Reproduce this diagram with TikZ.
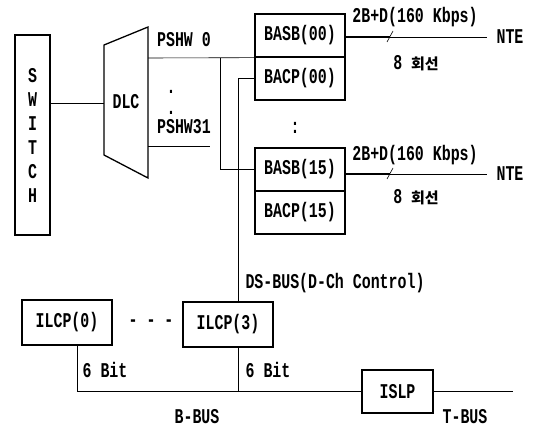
\documentclass[tikz,border=0pt]{standalone}
\usepackage{fontspec}
\usepackage{tikz}
\usetikzlibrary{positioning, calc}
\newfontfamily\dfont{Liberation Mono}[FakeStretch=0.71]
\newfontfamily\kfont{Noto Sans CJK KR}

\begin{document}
\begin{tikzpicture}[
    x=1pt, y=-1pt,
    every node/.style={font=\dfont\bfseries\fontsize{21}{23}\selectfont, inner sep=0pt},
    blk/.style={rectangle, draw, line width=1.3pt, minimum width=90pt, minimum height=43pt, align=center},
    cell/.style={rectangle, draw, line width=1.3pt, minimum width=90pt, minimum height=43pt},
    lnk/.style={line width=0.6pt},
    trunk/.style={line width=1.4pt}
]
    \useasboundingbox (0,0) rectangle (533,428);

    % switch and DLC
    \node (switch) [blk, minimum width=35pt, minimum height=200pt] at (32.5,135)
        {S\\[1pt]W\\[1pt]I\\[1pt]T\\[1pt]C\\[1pt]H};
    \draw[line width=1.3pt] (104,45) -- (148,27) -- (148,178) -- (104,155) -- cycle;
    \node (dlc) at (126,102) {DLC};
    \coordinate (dlcin) at (104,103);
    \coordinate (dlc0) at (148,58);
    \coordinate (dlc31) at (148,146);
    \coordinate (stub31) at (210,146);
    \coordinate (br) at (220,58);

    \node (pshw0) at (184,40) {PSHW 0};
    \node (dots31) [align=center, font=\dfont\bfseries\fontsize{21}{21}\selectfont] at (171,102) {.\\.};
    \node (pshw31) at (184,127) {PSHW31};

    % BA boards
    \node (basb0) [cell] at (300,35.5) {BASB(00)};
    \node (bacp0) [cell] at (300,78.5) {BACP(00)};
    \node (vdots) at (295,128) {:};
    \node (basb15) [cell] at (300,169.5) {BASB(15)};
    \node (bacp15) [cell] at (300,212.5) {BACP(15)};

    % subscriber links
    \coordinate (cut0) at (390,37);
    \coordinate (end0) at (487,37);
    \node (nte0) at (510,37) {NTE};
    \node (rate0) at (415,17) {2B+D(160 Kbps)};
    \node (ch0) at (416,63) {8 {\kfont\bfseries\fontsize{15}{17}\selectfont 회선}};
    \coordinate (cut15) at (390,174);
    \coordinate (end15) at (487,174);
    \node (nte15) at (510,174) {NTE};
    \node (rate15) at (415,155) {2B+D(160 Kbps)};
    \node (ch15) at (416,197) {8 {\kfont\bfseries\fontsize{15}{17}\selectfont 회선}};

    % control processors
    \node (ilcp0) [blk, minimum height=45pt] at (67,322.5) {ILCP(0)};
    \node (dots) at (151,323) {- - -};
    \node (ilcp3) [blk, minimum height=45pt] at (228,324.5) {ILCP(3)};
    \node (dsbus) at (335,283) {DS-BUS(D-Ch Control)};
    \node (bit0) at (105,370) {6 Bit};
    \node (bit3) at (268,370) {6 Bit};
    \node (islp) [blk, minimum width=71pt, minimum height=43pt] at (397.5,391.5) {ISLP};
    \coordinate (tend) at (513,391.5);
    \node (bbus) at (197,417) {B-BUS};
    \node (tbus) at (465,417) {T-BUS};

    \draw[lnk] (switch.east |- dlcin) -- (dlcin);
    \draw[lnk] (dlc0) -- (basb0.south west);
    \draw[lnk] (br) |- (basb15.west);
    \draw[lnk] (dlc31) -- (stub31);
    \draw[lnk] (bacp0.west) -| ([xshift=10pt]ilcp3.north);

    \draw[trunk] (basb0.east |- cut0) -- (cut0);
    \draw[lnk] (cut0) -- (end0);
    \draw[lnk] ([xshift=-3pt,yshift=-5pt]cut0) -- ([xshift=3pt,yshift=6pt]cut0);
    \draw[trunk] (basb15.east |- cut15) -- (cut15);
    \draw[lnk] (cut15) -- (end15);
    \draw[lnk] ([xshift=-3pt,yshift=-5pt]cut15) -- ([xshift=3pt,yshift=6pt]cut15);

    \draw[lnk] ([xshift=10pt]ilcp0.south) |- (islp.west);
    \draw[lnk] ([xshift=10pt]ilcp3.south) -- ([xshift=10pt]ilcp3.south |- islp.west);
    \draw[trunk] (islp.east) -- (tend);
\end{tikzpicture}
\end{document}
